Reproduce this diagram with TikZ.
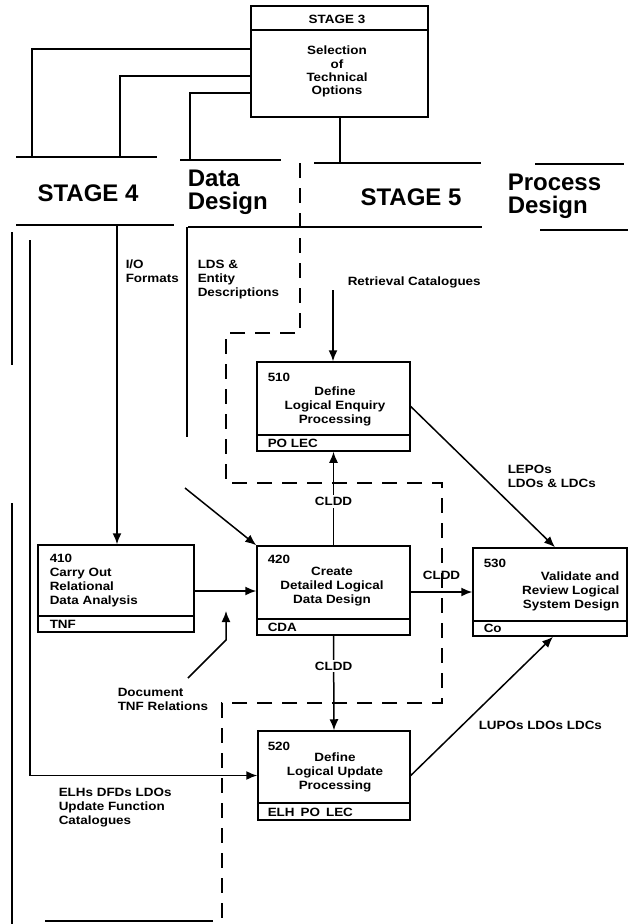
\documentclass[tikz,border=0pt]{standalone}
\usepackage{fontspec}
\setmainfont{Liberation Sans}
\newfontfamily\lblfont{Liberation Sans}[FakeStretch=1.12]
\usetikzlibrary{arrows.meta}

\begin{document}
\begin{tikzpicture}[x=1pt,y=-1pt,
  line width=1.5pt,
  pbox/.style={draw, line width=1.5pt, inner sep=0pt},
  txt/.style={font=\lblfont\bfseries\fontsize{12}{14}\selectfont, inner sep=0pt, align=center},
  ltxt/.style={txt, align=left, anchor=west},
  head/.style={font=\bfseries\fontsize{24}{23}\selectfont, inner sep=0pt, align=left},
  flow/.style={-{Latex[length=11pt,width=9pt]}},
  bound/.style={line width=1.5pt, dash pattern=on 15pt off 10pt},
  tag/.style={txt, fill=white, inner sep=2pt}
]
\fill[white] (0,0) rectangle (640,924);
\useasboundingbox (0,0) rectangle (640,924);

% ---------- Stage 3 box ----------
\node[pbox, minimum width=177pt, minimum height=111pt] (s3) at (339.5,61.5) {};
\draw (s3.west |- 0,30) -- (s3.east |- 0,30);
\node[txt] (s3t) at (337,19) {STAGE 3};
\node[txt, font=\lblfont\bfseries\fontsize{12}{13.2}\selectfont] (s3b) at (337,71.5) {Selection\\of\\Technical\\Options};

% ---------- stage / design headings ----------
\node[head] (st4) at (88,193) {STAGE 4};
\node[head, anchor=west] (dd) at (187,192) {Data\\Design};
\node[head] (st5) at (411,197) {STAGE 5};
\node[head, anchor=west] (pd) at (507,196) {Process\\Design};

\coordinate (st4tl) at (16,157);  \coordinate (st4tr) at (157,157);
\coordinate (st4bl) at (16,225);  \coordinate (st4br) at (174,225);
\coordinate (ddtl) at (180,160);  \coordinate (ddtr) at (281,160);
\coordinate (st5tl) at (314,163); \coordinate (st5tr) at (481,163);
\coordinate (ddbl) at (188,227);  \coordinate (st5br) at (482,227);
\coordinate (pdtl) at (535,164);  \coordinate (pdtr) at (624,164);
\coordinate (pdbl) at (540,230);  \coordinate (pdbr) at (628,230);
\draw (st4tl) -- (st4tr);
\draw (st4bl) -- (st4br);
\draw (ddtl) -- (ddtr);
\draw (st5tl) -- (st5tr);
\draw (ddbl) -- (st5br);
\draw (pdtl) -- (pdtr);
\draw (pdbl) -- (pdbr);

% links from Stage 3 down to the headings
\draw (s3.west |- 0,49) -| (st4tl -| 32,0);
\draw (s3.west |- 0,76) -| (st4tl -| 120,0);
\draw (s3.west |- 0,93) -| (ddtl -| 190,0);
\draw (s3.south -| 340,0) -- (st5tl -| 340,0);

% ---------- process boxes ----------
\node[pbox, minimum width=153pt, minimum height=89pt] (b510) at (333.5,406.5) {};
\node[pbox, minimum width=156pt, minimum height=87pt] (b410) at (116,588.5) {};
\node[pbox, minimum width=153pt, minimum height=89pt] (b420) at (333.5,590.5) {};
\node[pbox, minimum width=154pt, minimum height=88pt] (b530) at (550,592) {};
\node[pbox, minimum width=152pt, minimum height=89pt] (b520) at (334,775.5) {};

% footer rules
\draw (b510.west |- 0,435) -- (b510.east |- 0,435);
\draw (b410.west |- 0,616) -- (b410.east |- 0,616);
\draw (b420.west |- 0,619) -- (b420.east |- 0,619);
\draw (b530.west |- 0,621) -- (b530.east |- 0,621);
\draw (b520.west |- 0,803) -- (b520.east |- 0,803);

% box texts
\node[ltxt] (n510) at (267,377) {510};
\node[txt] (m510) at (335,406) {Define\\Logical Enquiry\\Processing};
\node[ltxt] (f510) at (267,443) {PO LEC};

\node[ltxt] (n410) at (49,558) {410};
\node[ltxt] (m410) at (49,587.5) {Carry Out\\Relational\\Data Analysis};
\node[ltxt] (f410) at (49,624) {TNF};

\node[ltxt] (n420) at (267,559) {420};
\node[txt] (m420) at (332,587) {Create\\Detailed Logical\\Data Design};
\node[ltxt] (f420) at (267,627) {CDA};

\node[ltxt] (n530) at (483,563) {530};
\node[txt, align=right, anchor=east] (m530) at (620,591) {Validate and\\Review Logical\\System Design};
\node[ltxt] (f530) at (483,628) {Co};

\node[ltxt] (n520) at (267,746) {520};
\node[txt] (m520) at (335,772) {Define\\Logical Update\\Processing};
\node[ltxt] (f520) at (267,812) {ELH\enspace PO\enspace LEC};

% ---------- free labels ----------
\node[ltxt] (lio) at (125,271) {I/O\\Formats};
\node[ltxt] (llds) at (197,280) {LDS \&\\Entity\\Descriptions};
\node[ltxt] (lret) at (347,282) {Retrieval Catalogues};
\node[ltxt] (lepo) at (507,476) {LEPOs\\LDOs \& LDCs};
\node[ltxt] (lupo) at (478,725) {LUPOs LDOs LDCs};
\node[ltxt] (ldoc) at (117,699) {Document\\TNF Relations};
\node[ltxt] (lelh) at (58,808) {ELHs DFDs LDOs\\Update Function\\Catalogues};

% ---------- flows ----------
\coordinate (elhtop) at (30,240);
\draw[flow] (elhtop) |- (b520.west);

\coordinate (iotop) at (117,225);
\draw[flow] (iotop) -- (b410.north -| iotop);

\coordinate (ldstop) at (187,227);
\coordinate (ldsend) at (187,437);
\draw (ldstop) -- (ldsend);
\coordinate (ldsdiag) at (185,488);
\draw[flow] (ldsdiag) -- (b420.north west);

\coordinate (rettop) at (333,290);
\draw[flow] (rettop) -- (b510.north -| rettop);

\draw[flow] (b420.north) -- node[tag, pos=0.47] {CLDD} (b510.south);
\draw[flow] (b420.south) -- node[tag, pos=0.32] {CLDD} (b520.north);
\draw[flow] (b420.east |- 0,592) -- node[txt, above=12pt] {CLDD} (b530.west |- 0,592);

\coordinate (x555) at (555,0);
\draw[flow] (b510.east) -- (b530.north -| x555);
\coordinate (x553) at (553,0);
\draw[flow] (b520.east) -- (b530.south -| x553);

\draw[flow] (b410.east |- 0,591) -- (b420.west |- 0,591);

\coordinate (docfoot) at (188,678);
\coordinate (docbend) at (226,640);
\coordinate (doctip) at (226,611);
\draw[flow] (docfoot) -- (docbend) -- (doctip);

% ---------- stage boundary ----------
\draw[bound] (300,163) -- (300,333) -- (226,333) -- (226,483) -- (442,483)
  -- (442,703) -- (222,703) -- (222,924);

% ---------- page-edge rules ----------
\draw (12,232) -- (12,365);
\draw (12,503) -- (12,924);
\draw (45,921) -- (213,921);
\end{tikzpicture}
\end{document}
